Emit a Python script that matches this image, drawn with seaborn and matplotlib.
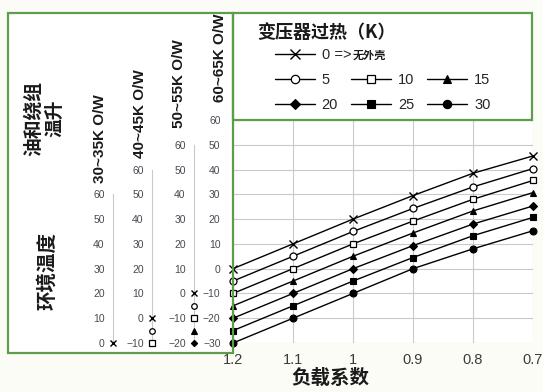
import matplotlib
matplotlib.use("Agg")
import matplotlib.pyplot as plt
from matplotlib.patches import Rectangle
from matplotlib.lines import Line2D
import seaborn as sns

# ---- data -------------------------------------------------------------
load = [1.2, 1.1, 1.0, 0.9, 0.8, 0.7]
load_labels = ["1.2", "1.1", "1", "0.9", "0.8", "0.7"]
overheat = [0, 5, 10, 15, 20, 25, 30]
temp_0 = [0, 10, 20, 29.5, 38.5, 45.5]
temp_5 = [-5, 5, 15, 24.3, 33, 40.4]
temp_10 = [-10, 0, 10, 19.2, 28, 35.6]
temp_15 = [-15, -5, 5, 14.4, 23.3, 30.7]
temp_20 = [-20, -10, 0, 9.3, 18, 25.3]
temp_25 = [-25, -15, -5, 4.5, 13.3, 20.7]
temp_30 = [-30, -20, -10, 0, 8, 15.3]
series = [temp_0, temp_5, temp_10, temp_15, temp_20, temp_25, temp_30]

rise_labels = ["30~35K O/W", "40~45K O/W", "50~55K O/W", "60~65K O/W"]
rise_offsets = [30, 20, 10, 0]      # ambient-scale shift relative to main axis
legend_labels = ["0 =>", "5", "10", "15", "20", "25", "30"]

# ---- style ------------------------------------------------------------
sns.set_style("white")
plt.rcParams["font.family"] = ["Liberation Sans", "Noto Sans CJK SC", "DejaVu Sans"]
CJK = ["Noto Sans CJK SC", "DejaVu Sans"]

GREEN = "#5e9e4a"
GRID = "#c9c9c9"
TICKC = "#4d4652"
BG = "#fcfcf7"

styles = [
    dict(marker="x", ms=5.5, mfc="black", mew=1.0),
    dict(marker="o", ms=5.0, mfc="white", mew=0.9),
    dict(marker="s", ms=4.6, mfc="white", mew=0.9),
    dict(marker="^", ms=5.0, mfc="black", mew=0.8),
    dict(marker="D", ms=4.0, mfc="black", mew=0.8),
    dict(marker="s", ms=4.6, mfc="black", mew=0.8),
    dict(marker="o", ms=5.0, mfc="black", mew=0.8),
]

W, H = 543, 392
fig = plt.figure(figsize=(W / 100, H / 100), dpi=100, facecolor=BG)


def fx(p):
    return p / W


def fy(p):
    return 1 - p / H


def box(x0, y0, x1, y1):
    fig.add_artist(Rectangle((fx(x0), fy(y1)), fx(x1) - fx(x0), fy(y0) - fy(y1),
                             transform=fig.transFigure, facecolor="white",
                             edgecolor="none", zorder=-5))
    fig.add_artist(Rectangle((fx(x0), fy(y1)), fx(x1) - fx(x0), fy(y0) - fy(y1),
                             transform=fig.transFigure, facecolor="none",
                             edgecolor=GREEN, lw=1.6, zorder=20))


box(8, 13, 233, 353)
box(233, 13, 532, 120)

# ---- main chart -------------------------------------------------------
ax = fig.add_axes([fx(233), fy(343), fx(533) - fx(233), fy(120) - fy(343)])
ax.set_facecolor("white")
for t, vals, st in zip(overheat, series, styles):
    sns.lineplot(x=load, y=vals, ax=ax, color="black", lw=1.0,
                 marker=st["marker"], markersize=st["ms"],
                 markerfacecolor=st["mfc"], markeredgecolor="black",
                 markeredgewidth=st["mew"], clip_on=False, zorder=5)
ax.set_xlim(1.2, 0.7)
ax.set_ylim(-30, 60)
ax.set_xticks(load)
ax.set_xticklabels(load_labels)
ax.set_yticks(range(-30, 61, 10))
ax.grid(True, color=GRID, lw=0.8)
for s in ax.spines.values():
    s.set_visible(False)
ax.tick_params(axis="y", direction="out", length=8, color=GRID, width=0.8,
               labelsize=7.5, labelcolor=TICKC, pad=1)
ax.tick_params(axis="x", length=0, pad=7, labelsize=10.5, labelcolor="#3a3a3a")
ax.set_xlabel("")
ax.set_ylabel("")

# ---- ambient temperature scales for the other winding rises ----------
scale_x = [113, 152, 194]
for x0, off in zip(scale_x, rise_offsets[:3]):
    sax = fig.add_axes([fx(x0), fy(343), fx(x0 + 8) - fx(x0), fy(120) - fy(343)])
    sax.patch.set_visible(False)
    sax.set_xlim(0, 1)
    sax.set_ylim(-30 + off, 60 + off)
    for k in ["top", "right", "bottom"]:
        sax.spines[k].set_visible(False)
    sax.spines["left"].set_color(GRID)
    sax.spines["left"].set_linewidth(0.8)
    sax.spines["left"].set_bounds(off - 30, 60)
    sax.set_xticks([])
    sax.set_yticks(range(off - 30, 61, 10))
    sax.tick_params(axis="y", direction="inout", length=12, color=GRID, width=0.8,
                    labelsize=7.5, labelcolor=TICKC, pad=0)
    for vals, st in zip(series, styles):
        if vals[0] >= off - 30:
            sax.plot([0], [vals[0]], marker=st["marker"], ms=st["ms"] * 0.8,
                     mfc=st["mfc"], mec="black", mew=st["mew"],
                     linestyle="none", clip_on=False, zorder=5)

# ---- texts ------------------------------------------------------------
for lab, cx, by in zip(rise_labels, [100, 140, 179, 220], [183, 158, 128, 102]):
    fig.text(fx(cx), fy(by), lab, rotation=90, ha="center", va="bottom",
             fontsize=11, fontweight="bold", color="#1a1a1a")

fig.text(fx(34), fy(118), "油和绕组", rotation=90, ha="center", va="center",
         fontsize=13.5, fontweight="bold", family=CJK, color="#1a1a1a")
fig.text(fx(55), fy(118), "温升", rotation=90, ha="center", va="center",
         fontsize=13.5, fontweight="bold", family=CJK, color="#1a1a1a")
fig.text(fx(47), fy(271), "环境温度", rotation=90, ha="center", va="center",
         fontsize=14, fontweight="bold", family=CJK, color="#1a1a1a")
fig.text(fx(330), fy(378), "负载系数", ha="center", va="center",
         fontsize=14, fontweight="bold", family=CJK, color="#1a1a1a")

# ---- legend -----------------------------------------------------------
fig.text(fx(257), fy(32), "变压器过热（K）", ha="left", va="center",
         fontsize=13, fontweight="bold", family=CJK, color="#1a1a1a")

handles = [Line2D([], [], color="black", lw=1.0, marker=st["marker"],
                  ms=st["ms"] * 1.2, mfc=st["mfc"], mec="black", mew=st["mew"])
           for st in styles]
leg_font = {"size": 10.5}
leg_a = fig.legend(handles[:1], legend_labels[:1], loc="upper left",
                   bbox_to_anchor=(fx(275), fy(48)), frameon=False, prop=leg_font,
                   handlelength=2.75, handletextpad=0.45, borderpad=0,
                   borderaxespad=0)
order = [1, 4, 2, 5, 3, 6]
leg_b = fig.legend([handles[i] for i in order], [legend_labels[i] for i in order],
                   ncol=3, loc="upper left", bbox_to_anchor=(fx(275), fy(73)),
                   frameon=False, prop=leg_font, handlelength=2.75,
                   handletextpad=0.45, columnspacing=0.9, labelspacing=0.75,
                   borderpad=0, borderaxespad=0)
fig.text(fx(353), fy(55.5), "无外壳", ha="left", va="center", fontsize=8,
         fontweight="bold", family=CJK, color="#1a1a1a")

fig.savefig("out.png", dpi=100, facecolor=BG)
